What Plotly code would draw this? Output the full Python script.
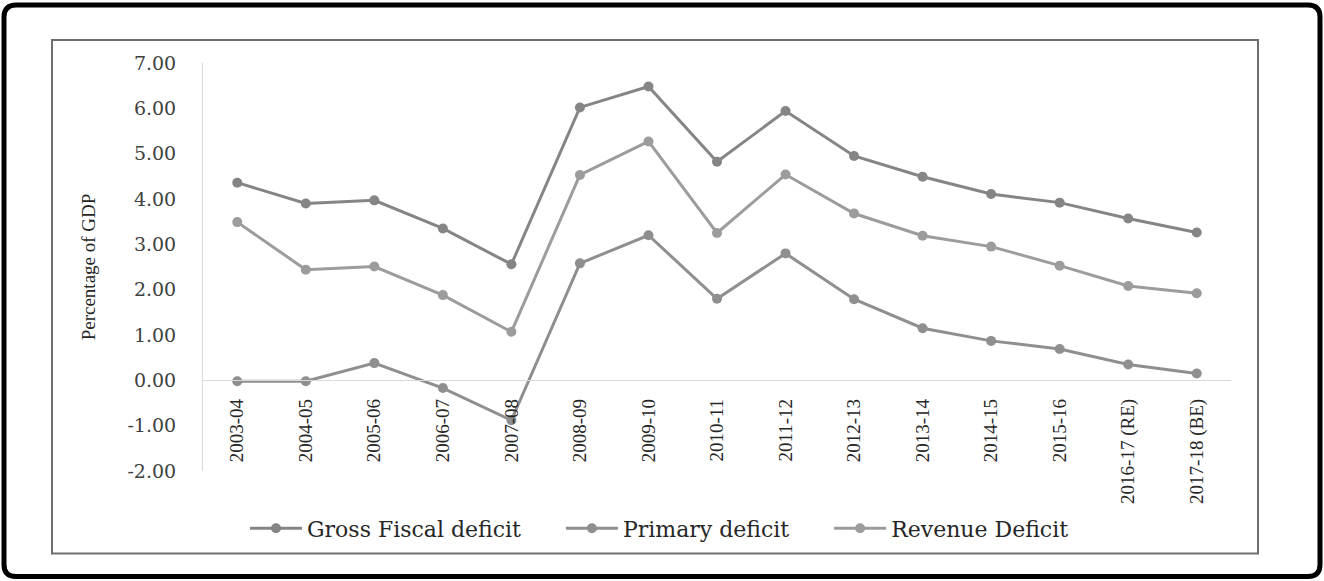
import plotly.graph_objects as go

years = ["2003-04", "2004-05", "2005-06", "2006-07", "2007-08", "2008-09", "2009-10",
         "2010-11", "2011-12", "2012-13", "2013-14", "2014-15", "2015-16",
         "2016-17 (RE)", "2017-18 (BE)"]
gross_fiscal = [4.36, 3.90, 3.97, 3.35, 2.56, 6.02, 6.48, 4.82, 5.94, 4.95, 4.49, 4.11, 3.92, 3.57, 3.26]
primary = [-0.02, -0.02, 0.38, -0.17, -0.88, 2.58, 3.20, 1.80, 2.80, 1.79, 1.15, 0.87, 0.69, 0.35, 0.15]
revenue = [3.49, 2.44, 2.51, 1.88, 1.07, 4.53, 5.27, 3.25, 4.54, 3.68, 3.19, 2.95, 2.53, 2.08, 1.92]
y_ticks = [-2, -1, 0, 1, 2, 3, 4, 5, 6, 7]
y_tick_labels = ["-2.00", "-1.00", "0.00", "1.00", "2.00", "3.00", "4.00", "5.00", "6.00", "7.00"]

names = ["Gross Fiscal deficit", "Primary deficit", "Revenue Deficit"]
series = [gross_fiscal, primary, revenue]
colors = ["#858585", "#8f8f8f", "#9c9c9c"]

W, H = 1324, 581
L, R = 203, 1231
T, B = 63, 470.6

fig = go.Figure()
pad = "\u00a0" * 5
for i, (nm, vals, c) in enumerate(zip(names, series, colors)):
    fig.add_trace(go.Scatter(
        x=years, y=vals, name=nm + (pad if i < len(names) - 1 else ""),
        mode="lines+markers",
        line=dict(color=c, width=3),
        marker=dict(color=c, size=10, symbol="circle"),
    ))

def px(xp):
    return (xp - L) / (R - L)

def py(yp):
    return (B - yp) / (B - T)

fig.update_layout(
    width=W, height=H,
    margin=dict(l=L, r=W - R, t=T, b=H - B, pad=0),
    paper_bgcolor="white", plot_bgcolor="white",
    showlegend=True,
    legend=dict(
        orientation="h", x=px(245), y=py(528), xanchor="left", yanchor="middle",
        font=dict(family="DejaVu Serif", size=22, color="#262626"),
        itemwidth=52, bgcolor="rgba(0,0,0,0)", traceorder="normal",
    ),
    xaxis=dict(
        type="category", range=[-0.5, 14.5], anchor="free", position=2 / 9,
        showgrid=False, zeroline=False, showline=True, linecolor="#d9d9d9", linewidth=1,
        ticks="", tickangle=-90, ticklabelstandoff=10,
        tickfont=dict(family="Liberation Serif", size=19, color="#262626"),
    ),
    yaxis=dict(
        range=[-2, 7], tickvals=y_ticks, ticktext=y_tick_labels,
        showgrid=False, zeroline=False, showline=True, linecolor="#d9d9d9", linewidth=1,
        ticks="", ticklabelstandoff=22,
        tickfont=dict(family="DejaVu Serif", size=19, color="#404040"),
        title=dict(text="Percentage of GDP", standoff=26,
                   font=dict(family="Liberation Serif", size=19, color="#262626")),
    ),
)

# inner chart border
fig.add_shape(type="rect", xref="paper", yref="paper",
              x0=px(52), x1=px(1258), y0=py(553), y1=py(40),
              line=dict(color="#6e6e6e", width=2), layer="below")

# outer rounded frame
x0, x1, y0, y1, r = px(4), px(1320), py(576), py(5), 12
rx = r / (R - L)
ry = r / (B - T)
path = (f"M {x0+rx},{y1} L {x1-rx},{y1} Q {x1},{y1} {x1},{y1-ry} "
        f"L {x1},{y0+ry} Q {x1},{y0} {x1-rx},{y0} L {x0+rx},{y0} "
        f"Q {x0},{y0} {x0},{y0+ry} L {x0},{y1-ry} Q {x0},{y1} {x0+rx},{y1} Z")
fig.add_shape(type="path", xref="paper", yref="paper", path=path,
              line=dict(color="black", width=5), layer="below")

fig.write_html(
    "out.html",
    config={"displayModeBar": False},
    post_script="document.body.style.margin='0';document.body.style.overflow='hidden';",
)
